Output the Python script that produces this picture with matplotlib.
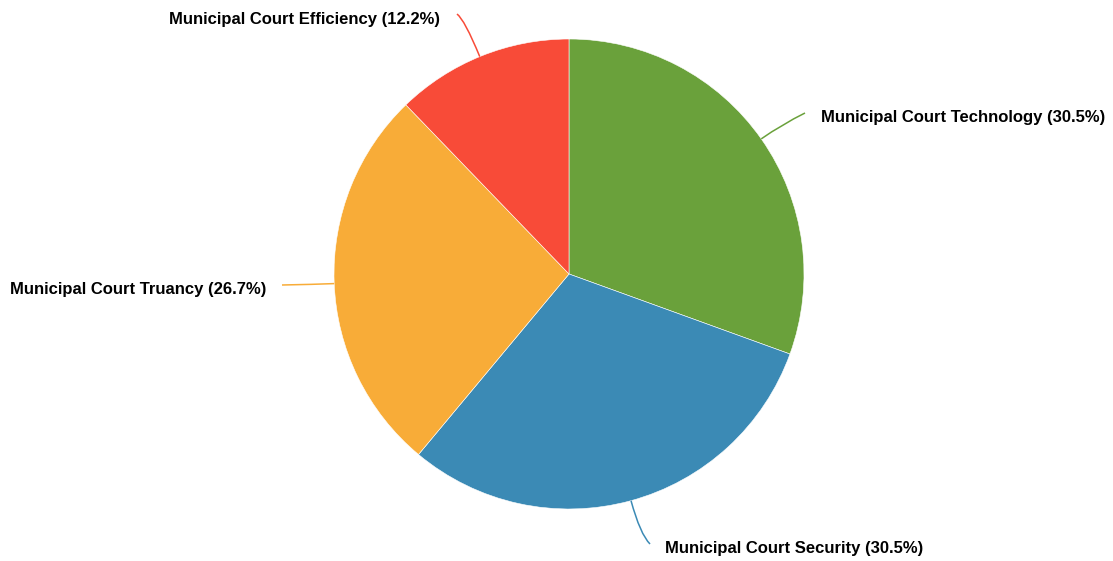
import numpy as np
import matplotlib
matplotlib.use("Agg")
import matplotlib.pyplot as plt
from matplotlib.path import Path
from matplotlib.patches import PathPatch

categories = ["Municipal Court Technology", "Municipal Court Security",
              "Municipal Court Truancy", "Municipal Court Efficiency"]
percents = [30.5, 30.5, 26.7, 12.2]
colors = ["#6aa13b", "#3b8ab5", "#f8ac38", "#f84b38"]

W, H = 1113, 561
fig = plt.figure(figsize=(W / 100, H / 100), dpi=100)
ax = fig.add_axes([0, 0, 1, 1])

cx, cy, R = 569, H - 274, 235
ax.pie(percents, colors=colors, startangle=90, counterclock=False,
       center=(cx, cy), radius=R, frame=True,
       wedgeprops=dict(edgecolor="white", linewidth=0.4))
ax.set_xlim(0, W)
ax.set_ylim(0, H)
ax.set_aspect("equal")
ax.axis("off")

# layout: (line end x, line end y in px from top, extension, label x, label y, ha)
layout = [
    (805, 113, 25, 821, 117, "left"),
    (650, 544, 35, 665, 549, "left"),
    (282, 285, 20, 266, 289, "right"),
    (457, 14, 40, 440, 19, "right"),
]

cum = 0.0
for cat, p, col, (ex, ey, ext, lx, ly, ha) in zip(categories, percents, colors, layout):
    mid = 90 - (cum + p / 2) * 3.6
    cum += p
    a = np.deg2rad(mid)
    sx, sy = cx + R * np.cos(a), cy + R * np.sin(a)
    kx, ky = cx + (R + ext) * np.cos(a), cy + (R + ext) * np.sin(a)
    path = Path([(sx, sy), (kx, ky), (ex, H - ey)],
                [Path.MOVETO, Path.CURVE3, Path.CURVE3])
    ax.add_patch(PathPatch(path, facecolor="none", edgecolor=col, lw=1.1))
    ax.text(lx, H - ly, f"{cat} ({p}%)", ha=ha, va="center",
            fontsize=12, fontweight="bold", family="Liberation Sans",
            color="#000000")

fig.savefig("out.png", dpi=100)
